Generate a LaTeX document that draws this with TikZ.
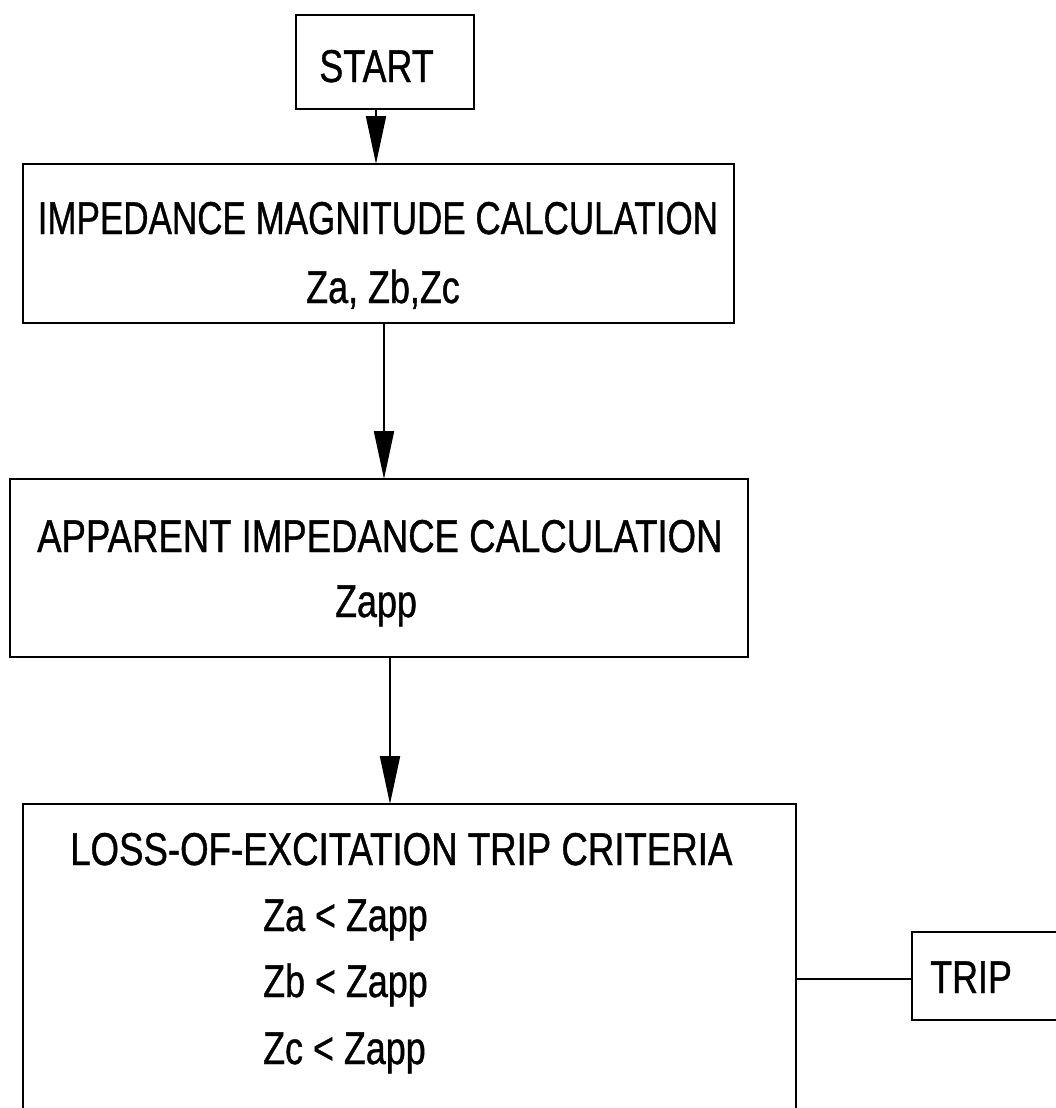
\documentclass[tikz,border=0pt]{standalone}
\usepackage{graphicx}
\usepackage{fontspec}
\setmainfont{Liberation Sans}[FakeStretch=0.78,FakeBold=0.8]
\usetikzlibrary{arrows.meta}
% horizontally adjusted caption text
\newcommand{\wide}[2]{\scalebox{#1}[1]{#2}}
\begin{document}
\begin{tikzpicture}[x=1pt,y=-1pt,
  box/.style={draw,line width=2pt,inner sep=0pt,outer sep=0pt},
  txt/.style={inner sep=0pt,font=\fontsize{46}{50}\selectfont},
  arr/.style={line width=2pt,-{Triangle[length=48pt,width=20pt]}},
  link/.style={line width=2pt}]
\clip (0,0) rectangle (1056,1108);
\fill[white] (0,0) rectangle (1056,1108);

% boxes
\node[box,minimum width=178pt,minimum height=94pt] (start) at (385,62) {};
\node[box,minimum width=711pt,minimum height=159pt] (calc1) at (378.5,243.5) {};
\node[box,minimum width=738pt,minimum height=178pt] (calc2) at (379,568) {};
\node[box,minimum width=773pt,minimum height=360pt] (crit) at (409.5,984) {};
\node[box,minimum width=200pt,minimum height=88pt] (trip) at (1012,976) {};

% labels
\node[txt,anchor=base] (tstart) at (376.5,82) {START};
\node[txt,anchor=base west] (t1a) at (37.5,234) {\wide{0.976}{IMPEDANCE MAGNITUDE CALCULATION}};
\node[txt,anchor=base] (t1b) at (383,303) {Za, Zb,Zc};
\node[txt,anchor=base west] (t2a) at (37,552) {\wide{1.019}{APPARENT IMPEDANCE CALCULATION}};
\node[txt,anchor=base] (t2b) at (376,617) {Zapp};
\node[txt,anchor=base west] (t3a) at (70,865) {\wide{1.021}{LOSS-OF-EXCITATION TRIP CRITERIA}};
\node[txt,anchor=base west] (t3b) at (263,931) {Za < Zapp};
\node[txt,anchor=base west] (t3c) at (263,997) {Zb < Zapp};
\node[txt,anchor=base west] (t3d) at (263,1064) {Zc < Zapp};
\node[txt,anchor=base west] (ttrip) at (930,993) {TRIP};

% connectors
\draw[arr] ([xshift=-9pt]start.south) -- ([xshift=-9pt]start.south |- calc1.north);
\draw[arr] ([xshift=5.5pt]calc1.south) -- ([xshift=5.5pt]calc1.south |- calc2.north);
\draw[arr] ([xshift=11pt]calc2.south) -- ([xshift=11pt]calc2.south |- crit.north);
\draw[link] ([yshift=-3pt]trip.west) -- ([yshift=-3pt]trip.west -| crit.east);
\end{tikzpicture}
\end{document}
